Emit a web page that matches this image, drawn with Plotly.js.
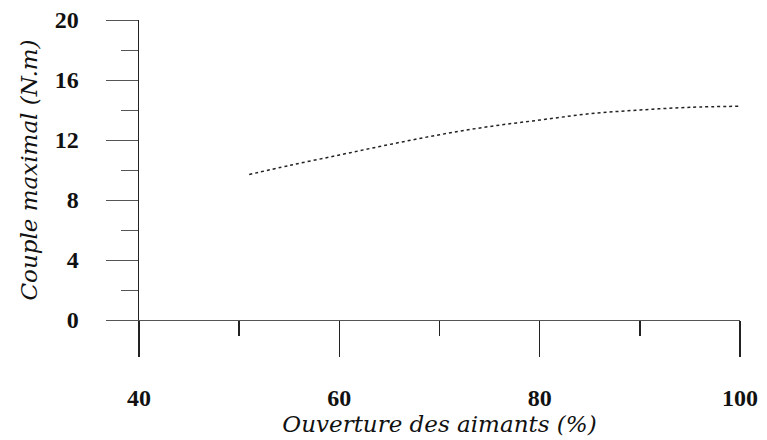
<!DOCTYPE html>
<html>
<head>
<meta charset="utf-8">
<script src="https://cdn.plot.ly/plotly-3.0.1.min.js"></script>
<style>html,body{margin:0;padding:0;background:#fff;}#chart{width:767px;height:440px;}</style>
</head>
<body>
<div id="chart"></div>
<script>
const ouverture = [51, 55, 60, 65, 70, 75, 80, 85, 90, 95, 100];
const coupleMax = [9.7, 10.3, 11.0, 11.7, 12.35, 12.9, 13.33, 13.75, 14.0, 14.18, 14.25];
const xTicks = [40, 60, 80, 100];
const yTicks = [0, 4, 8, 12, 16, 20];

const serif = "Liberation Serif, Times New Roman, serif";
const titleFont = "DejaVu Serif, Liberation Serif, serif";

Plotly.newPlot('chart', [{
  x: ouverture, y: coupleMax, mode: 'lines', type: 'scatter',
  line: {color: '#222', width: 1.5, dash: 'dot', shape: 'spline'},
  hoverinfo: 'skip'
}], {
  width: 767, height: 440,
  margin: {l: 139, r: 27, t: 20, b: 120},
  paper_bgcolor: '#fff', plot_bgcolor: '#fff',
  showlegend: false,
  xaxis: {
    range: [40, 100], tickvals: xTicks, ticktext: xTicks.map(String),
    showgrid: false, zeroline: false, showline: true, linecolor: '#555', linewidth: 1,
    ticks: 'outside', ticklen: 36, tickwidth: 1.5, tickcolor: '#222',
    minor: {tickvals: [50, 70, 90], ticks: 'outside', ticklen: 15, tickwidth: 1.5, tickcolor: '#222', showgrid: false},
    ticklabelstandoff: 20,
    tickfont: {family: serif, size: 24, color: '#111', weight: 'bold'},
    title: {text: '<i>Ouverture des aimants (%)</i>', font: {family: titleFont, size: 23, color: '#111'}, standoff: 2}
  },
  yaxis: {
    range: [0, 20], tickvals: yTicks, ticktext: yTicks.map(String),
    showgrid: false, zeroline: false, showline: true, linecolor: '#222', linewidth: 1.5,
    ticks: 'outside', ticklen: 32, tickwidth: 1, tickcolor: '#555',
    minor: {tickvals: [2, 6, 10, 14, 18], ticks: 'outside', ticklen: 17, tickwidth: 1, tickcolor: '#555', showgrid: false},
    ticklabelstandoff: 22,
    tickfont: {family: serif, size: 24, color: '#111', weight: 'bold'},
    title: {text: '<i>Couple maximal (N.m)</i>', font: {family: titleFont, size: 23, color: '#111'}, standoff: 10}
  }
}, {displayModeBar: false, staticPlot: true});
</script>
</body>
</html>
